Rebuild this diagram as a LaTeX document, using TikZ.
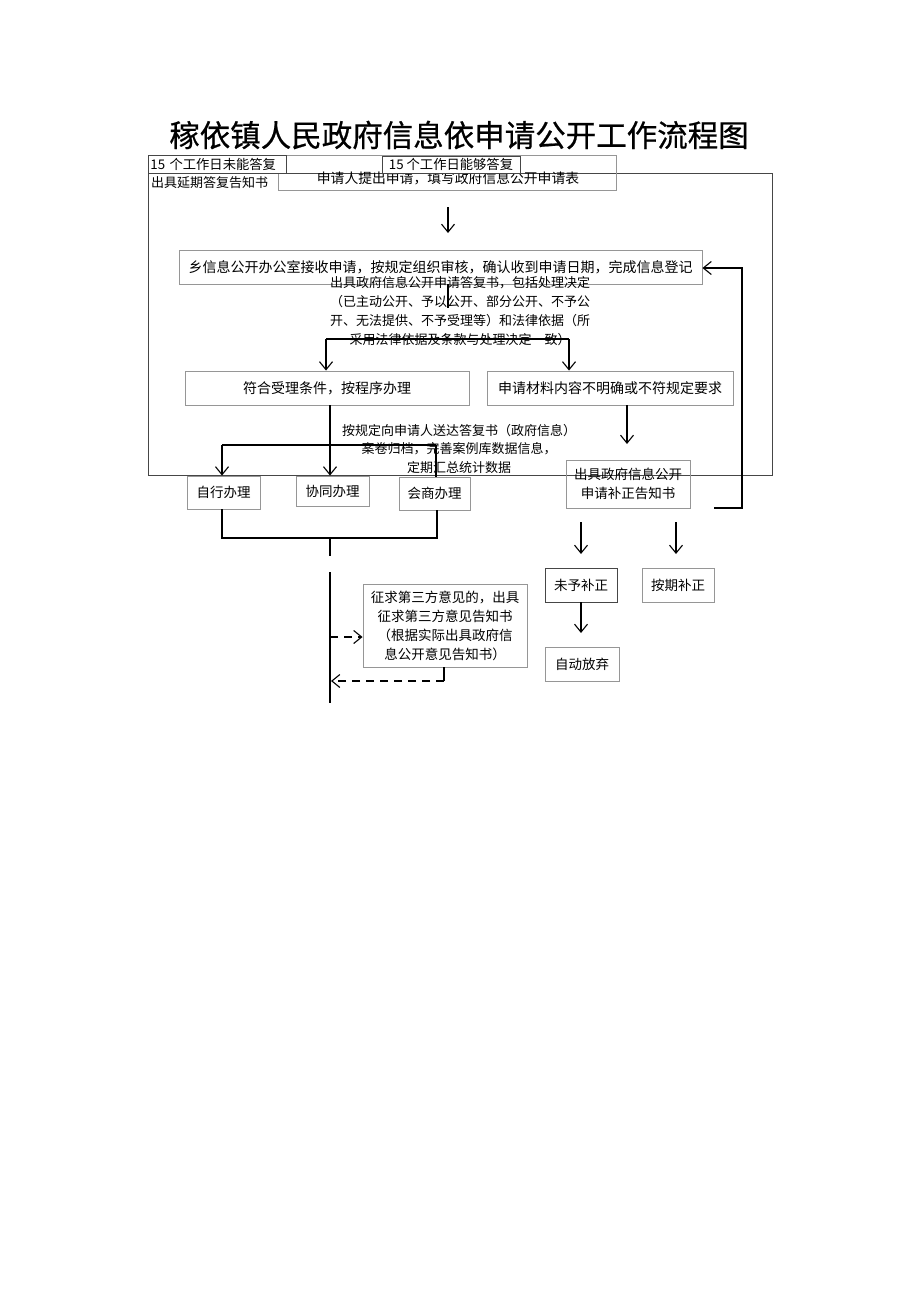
\documentclass[tikz,border=0pt]{standalone}
\usepackage{fontspec}
\setmainfont{Noto Sans CJK SC}
\newfontfamily\titlefont{Noto Sans CJK SC}[FakeBold=0.6]
\usetikzlibrary{arrows.meta}
\definecolor{boxgray}{RGB}{150,150,150}
\definecolor{darkbox}{RGB}{70,70,70}
\begin{document}
\begin{tikzpicture}[x=1pt,y=-1pt,
  box/.style={draw=boxgray, line width=0.9pt, inner sep=0pt, align=center, font=\fontsize{13.5}{19}\selectfont},
  tbox/.style={draw=darkbox, line width=0.8pt, inner sep=2pt, font=\fontsize{13.3}{14}\selectfont},
  lbl/.style={inner sep=0pt, align=center, font=\fontsize{13}{19}\selectfont},
  conn/.style={line width=1.3pt, black},
  arr/.style={conn, -{Straight Barb[length=8pt,width=13pt,line width=1.1pt]}},
  darr/.style={arr, dash pattern=on 8pt off 6pt}]
\useasboundingbox (0,0) rectangle (920,1301);
\fill[white] (0,0) rectangle (920,1301);

% title
\node[inner sep=0pt, font=\titlefont\fontsize{30.5}{32}\selectfont] (title) at (459,135) {稼依镇人民政府信息依申请公开工作流程图};

% big frame
\draw[darkbox, line width=0.8pt] (148,173) rectangle (772,475);
\coordinate (frame) at (148,173);

% top boxes
\node[box, minimum width=338pt, minimum height=35pt] (apply) at (447,172.5) {};
\node[lbl, font=\fontsize{13.8}{15}\selectfont] (applyt) at (448,178.5) {申请人提出申请，填写政府信息公开申请表};
\node[tbox, minimum width=138pt, minimum height=18pt, fill=white, anchor=west, text width=134pt, align=left] (t15a) at (148,164) {15 个工作日未能答复};
\node[tbox, minimum width=138pt, minimum height=17pt, fill=white] (t15b) at (451,164.5) {15 个工作日能够答复};
\node[lbl, anchor=west] (delay) at (151,183) {出具延期答复告知书};

% arrow to register
\coordinate (a1s) at (448,207);
\coordinate (a1e) at (448,233);
\draw[arr] (a1s) -- (a1e);

\node[box, minimum width=523pt, minimum height=34pt, font=\fontsize{14}{16}\selectfont] (reg) at (440.5,267) {乡信息公开办公室接收申请，按规定组织审核，确认收到申请日期，完成信息登记};

% reply text
\node[lbl] (reply) at (460,311) {出具政府信息公开申请答复书，包括处理决定\\（已主动公开、予以公开、部分公开、不予公\\开、无法提供、不予受理等）和法律依据（所\\采用法律依据及条款与处理决定一致）};
\coordinate (r1) at (448,308);
\draw[conn] (reg.south -| r1) -- (r1);

% split arrows
\coordinate (sl) at (326,339);
\coordinate (sr) at (569,339);
\draw[conn] (sl) -- (sr);

\node[box, minimum width=284pt, minimum height=34pt, font=\fontsize{14}{16}\selectfont] (ok) at (327,388) {符合受理条件，按程序办理};
\node[box, minimum width=246pt, minimum height=34pt, font=\fontsize{14}{16}\selectfont] (bad) at (610,388) {申请材料内容不明确或不符规定要求};
\draw[arr] (sl) -- (sl |- ok.north);
\draw[arr] (sr) -- (sr |- bad.north);

% deliver text
\node[lbl, font=\fontsize{13}{18.5}\selectfont] (deliver) at (459,448.5) {按规定向申请人送达答复书（政府信息）\\案卷归档，完善案例库数据信息，\\定期汇总统计数据};

\coordinate (d0) at (330,445);
\coordinate (dl) at (222,445);
\coordinate (dr) at (436,445);
\draw[conn] (ok.south -| d0) -- (d0);
\draw[conn] (dl) -- (dr);

\node[box, minimum width=73pt, minimum height=33pt] (self) at (223.5,492.5) {自行办理};
\node[box, minimum width=73pt, minimum height=30pt] (coop) at (332.5,491) {协同办理};
\node[box, minimum width=71pt, minimum height=33pt] (cons) at (434.5,493.5) {会商办理};
\draw[arr] (dl) -- (dl |- self.north);
\draw[arr] (d0) -- (d0 |- coop.north);
\draw[conn] (dr) -- (dr |- cons.north);

% bottom join
\coordinate (jl) at (222,538);
\coordinate (jr) at (437,538);
\draw[conn] (self.south -| jl) -- (jl) -- (jr) -- (cons.south -| jr);
\coordinate (c1) at (330,537);
\coordinate (c2) at (330,556);
\draw[conn] (c1) -- (c2);
\coordinate (m1) at (330,572);
\coordinate (m2) at (330,703);
\draw[conn] (m1) -- (m2);

% right branch
\node[box, minimum width=124pt, minimum height=48pt, font=\fontsize{13.5}{19}\selectfont] (notice) at (628,484) {出具政府信息公开\\申请补正告知书};
\coordinate (b1) at (627,405);
\draw[arr] (bad.south -| b1) -- (627,444);

\coordinate (f1) at (714,508);
\coordinate (f2) at (742,508);
\coordinate (f3) at (742,268);
\draw[arr] (f1) -- (f2) -- (f3) -- (reg.east |- f3);

\node[box, draw=darkbox, minimum width=72pt, minimum height=34pt] (nogive) at (581,585) {未予补正};
\node[box, minimum width=72pt, minimum height=34pt] (ontime) at (678,585) {按期补正};
\coordinate (n1) at (581,522);
\coordinate (n2) at (676,522);
\draw[arr] (n1) -- (581,554);
\draw[arr] (n2) -- (676,554);

\node[box, minimum width=74pt, minimum height=34pt] (giveup) at (582,664) {自动放弃};
\draw[arr] (nogive.south) -- (581,633);

% third party
\node[box, minimum width=164pt, minimum height=83pt] (third) at (445,625.5) {征求第三方意见的，出具\\征求第三方意见告知书\\（根据实际出具政府信\\息公开意见告知书）};
\coordinate (p1) at (330,637);
\draw[darr] (p1) -- (third.west |- p1);
\coordinate (q1) at (444,681);
\coordinate (q2) at (331,681);
\draw[conn] (third.south -| q1) -- (q1);
\draw[darr] (q1) -- (q2);
\end{tikzpicture}
\end{document}
